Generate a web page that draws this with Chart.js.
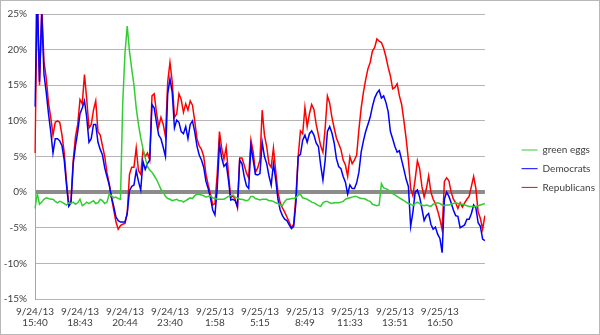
<!DOCTYPE html>
<html>
<head>
<meta charset="utf-8">
<script src="https://cdn.jsdelivr.net/npm/chart.js@4.4.1/dist/chart.umd.min.js"></script>
<style>
  html, body { margin: 0; padding: 0; background: #fff; }
  #chart { display: block; }
</style>
</head>
<body>
<canvas id="chart" width="600" height="335"></canvas>
<script>
// x axis: one label every 20 points
var tickDates = ['9/24/13', '9/24/13', '9/24/13', '9/24/13', '9/25/13', '9/25/13', '9/25/13', '9/25/13', '9/25/13', '9/25/13'];
var tickTimes = ['15:40', '18:43', '20:44', '23:40', '1:58', '5:15', '8:49', '11:33', '13:51', '16:50'];
var pointsPerTick = 20;

// y axis (percent)
var yMin = -15, yMax = 25, yStep = 5;

var greenEggs = [
  -2.3, -0.2, -1.7, -1.4, -1.0, -0.8, -0.9, -1.0, -1.0, -1.3,
  -1.5, -1.3, -1.4, -1.6, -1.8, -1.5, -1.6, -1.4, -1.7, -1.5,
  -1.0, -1.9, -1.7, -1.4, -1.6, -1.4, -1.2, -1.6, -1.5, -1.0,
  -1.2, -1.6, -1.4, -0.3, -0.5, -0.8, -0.7, -0.9, -1.0, 12.5,
  19.5, 23.3, 19.8, 17.3, 15.0, 11.8, 9.5, 7.6, 6.1, 4.8,
  3.6, 3.1, 2.8, 2.3, 1.8, 1.1, 0.4, 0.0, -0.6, -0.9,
  -1.0, -1.2, -1.1, -1.0, -1.2, -1.2, -1.4, -1.2, -1.0, -0.8,
  -0.9, -0.5, -0.3, -0.3, -0.4, -0.5, -0.7, -0.6, -0.5, -0.8,
  -0.9, -1.0, -1.0, -1.0, -1.0, -0.8, -0.6, -0.5, -0.4, -0.7,
  -0.8, -1.0, -1.0, -1.1, -1.2, -1.1, -0.6, -0.6, -0.9, -1.0,
  -1.1, -1.0, -1.0, -1.0, -1.2, -1.2, -1.3, -1.5, -1.6, -1.8,
  -1.9, -1.3, -1.0, -1.0, -0.9, -0.9, -0.8, -0.4, -0.3, -0.8,
  -0.9, -1.0, -1.2, -1.4, -1.5, -1.7, -1.9, -2.0, -1.5, -1.3,
  -1.3, -1.5, -1.6, -1.5, -1.5, -1.5, -1.4, -1.3, -1.0, -0.9,
  -0.8, -0.7, -0.6, -0.6, -0.8, -0.9, -0.9, -1.0, -1.2, -1.3,
  -1.7, -1.8, -1.9, -1.8, 1.2, 0.6, 0.5, 0.3, 0.1, -0.2,
  -0.4, -0.6, -0.8, -1.0, -1.2, -1.4, -1.6, -1.7, -1.9, -1.6,
  -1.4, -1.6, -1.8, -1.9, -1.8, -1.9, -2.0, -1.7, -1.6, -1.5,
  -1.6, -1.8, -1.9, -1.8, -1.8, -1.7, -1.6, -1.5, -1.6, -1.7,
  -1.7, -1.8, -1.9, -2.0, -2.0, -2.0, -2.0, -1.9, -1.8, -1.7,
  -1.6
];

var democrats = [
  12, 28, 15.5, 25, 16.5, 14, 11, 8.5, 5.5, 7.5,
  7.5, 7.2, 6.5, 4.5, 1, -2, -1.5, 4, 6.5, 8.5,
  11, 11.8, 12.8, 10.5, 7, 7.5, 9.5, 9.5, 7, 6,
  5.2, 3.4, 2.2, 1, -0.7, -2, -3.5, -4, -4.2, -4.2,
  -4.2, -3, 0.2, 0.8, 1, 3, 1.5, 0.3, 4.3, 3.2,
  4, 4.5, 12.3, 11.8, 9.8, 8, 7.5, 6.3, 5, 13.8,
  15.9, 14, 9, 10.1, 9.8, 8.5, 8.2, 9.2, 7.5, 9.5,
  10, 8.5, 6.5, 5.2, 4.5, 3.5, 1.5, 0.5, -0.8, -2.5,
  -3.2, 0.5, 6.8, 4.8, 3.6, 4, 1.7, -1.1, -1, -1.2,
  -2, 4.5, 4, 2.2, 0.9, 0.5, 6.5, 4.5, 2.5, 2.4,
  2.6, 7, 5, 4, 2.3, 1, 4, 1.8, -1, -2.5,
  -3.3, -3.8, -4, -4.6, -5.1, -4.8, -1.5, 5, 5.3, 7.3,
  8, 7, 8.2, 8.6, 8, 6.9, 6.4, 3.8, 1.7, 4.5,
  8.5, 9.2, 8.3, 6.9, 4.7, 3.6, 3.3, 2.2, 1.4, -0.3,
  1, 0.5, 0.5, 1.3, 2.8, 5.6, 7.2, 8.5, 9.5, 10.5,
  12, 13.2, 13.9, 14.3, 13.2, 13.5, 12.6, 11.3, 8.5, 7.5,
  6.4, 5.6, 5.8, 4.5, 3.2, 1.8, 0.8, -4.8, -2.8, 0,
  0.3, -0.7, -2.3, -4, -3.3, -3, -4.5, -5.2, -4.9, -5.9,
  -6.5, -8.5, -1, 0, -0.6, -1.5, -2.5, -3.3, -3.4, -5,
  -4.8, -4.6, -3.8, -3.8, -3, -1.8, -2.2, -4.3, -4.8, -6.6,
  -6.8
];

var republicans = [
  5.5, 28, 15, 26, 18.3, 16, 12.5, 10.5, 8, 9.8,
  10, 9.8, 8, 5.5, 1.5, -1.7, -1.2, 4.5, 7.8, 9.5,
  13, 12.4, 16.5, 13, 9, 9.5, 11.5, 12.8, 8.5, 8,
  6.5, 5, 2.7, 1.2, -0.8, -2.5, -4.2, -5.2, -4.7, -4.5,
  -4.4, -3, 2.5, 3.5, 3.5, 6.2, 3, 2.5, 5.8, 5,
  5.5, 4.5, 13.5, 13.8, 11.2, 9.2, 10.5, 9.5, 7.8, 15.5,
  18.2, 15.5, 10.5, 11, 13.8, 13, 11.2, 12.4, 11.5, 12.8,
  12.2, 10, 7.5, 6.5, 6, 5, 2.5, 1, -0.3, -1.8,
  -1.6, 2.5, 8.5, 6.2, 4.6, 6.3, 2.6, -0.8, -0.5, -1,
  -2.2, 4.8, 4.8, 3.8, 2.7, 2, 7.3, 5.6, 2.8, 3.4,
  4.5, 11.5, 8, 6.4, 4, 3.5, 6.2, 3, 0, -1.5,
  -2.2, -2.8, -3.5, -4.2, -5, -4.5, -0.5, 5, 8.6, 8.2,
  11.9, 9.2, 11, 12.3, 11.6, 9.5, 8, 6.5, 5.6, 9,
  13.5, 12.5, 10.5, 9, 7.6, 6.8, 6, 4.5, 3.8, 2.2,
  5, 4, 4.5, 5.2, 8.8, 11.8, 14, 15.8, 17.3, 18.2,
  19.8, 20.3, 21.5, 21.2, 21, 20.2, 19, 17.5, 16.3, 14.5,
  14.7, 15.2, 13.5, 12.3, 10, 7.5, 4.5, 0.5, -0.5, 1.8,
  4.4, 3.3, 0.8, -0.7, 0.5, 2.3, 0, -1, -1.6, -2.6,
  -3.8, -5.3, 1.5, 2, 1.6, 0, -1, -1.5, -2.3, -1.5,
  -2.1, -1.5, -1, -0.6, 0.8, 2.2, 0.5, -2.8, -3.7, -5.2,
  -3.3
];

// category labels: a two-line label every pointsPerTick points, blank otherwise
var labels = greenEggs.map(function (v, i) {
  var k = i / pointsPerTick;
  if (i % pointsPerTick === 0 && k < tickTimes.length) {
    return [tickDates[k], tickTimes[k]];
  }
  return '';
});

var fontFamily = 'Lato, "Open Sans", sans-serif';
var textColor = '#404040';

var framePlugin = {
  id: 'frame',
  beforeDraw: function (chart) {
    var c = chart.ctx;
    c.save();
    c.fillStyle = '#ffffff';
    c.fillRect(0, 0, chart.width, chart.height);
    c.restore();
  },
  afterDraw: function (chart) {
    var c = chart.ctx;
    c.save();
    c.strokeStyle = '#b8b8b8';
    c.lineWidth = 1;
    c.strokeRect(0.5, 0.5, chart.width - 1, chart.height - 1);
    c.restore();
  }
};

var config = {
  type: 'line',
  data: {
    labels: labels,
    datasets: [{
      label: 'green eggs',
      data: greenEggs,
      borderColor: '#33cc33',
      backgroundColor: '#33cc33'
    }, {
      label: 'Democrats',
      data: democrats,
      borderColor: '#0000ff',
      backgroundColor: '#0000ff'
    }, {
      label: 'Republicans',
      data: republicans,
      borderColor: '#ff0000',
      backgroundColor: '#ff0000'
    }]
  },
  options: {
    responsive: false,
    animation: false,
    elements: {
      line: { borderWidth: 1.5, tension: 0 },
      point: { radius: 0 }
    },
    layout: { padding: { top: 12, right: -5, bottom: 0, left: 0 } },
    plugins: {
      tooltip: { enabled: false },
      legend: {
        position: 'right',
        align: 'start',
        title: { display: true, text: '', padding: { top: 112.3, bottom: 0 }, font: { size: 10, lineHeight: 1.2 } },
        labels: {
          usePointStyle: true,
          pointStyle: 'line',
          pointStyleWidth: 16,
          padding: 8.7,
          color: textColor,
          font: { family: fontFamily, size: 10 }
        }
      }
    },
    scales: {
      x: {
        grid: { display: false, drawTicks: false },
        border: { display: false },
        ticks: {
          autoSkip: false,
          maxRotation: 0,
          minRotation: 0,
          padding: 7,
          color: textColor,
          font: { family: fontFamily, size: 10, lineHeight: 1.1 }
        },
        afterFit: function (s) { s.height = 36; }
      },
      y: {
        min: yMin,
        max: yMax,
        ticks: {
          stepSize: yStep,
          padding: 8,
          color: textColor,
          font: { family: fontFamily, size: 10 },
          callback: function (v) { return v + '%'; }
        },
        grid: {
          drawTicks: false,
          color: function (ctx) { return ctx.tick && ctx.tick.value === 0 ? '#8c8c8c' : '#b5b5b5'; },
          lineWidth: function (ctx) { return ctx.tick && ctx.tick.value === 0 ? 4 : 1; }
        },
        border: { color: '#a6a6a6' },
        afterFit: function (s) { s.width = 35; }
      },
      gap: {
        type: 'linear',
        position: 'right',
        display: true,
        grid: { display: false },
        border: { display: false },
        ticks: { display: false },
        afterFit: function (s) { s.width = 28; }
      }
    }
  },
  plugins: [framePlugin]
};

window.onload = function () {
  window.myChart = new Chart(document.getElementById('chart'), config);
};
</script>
</body>
</html>
